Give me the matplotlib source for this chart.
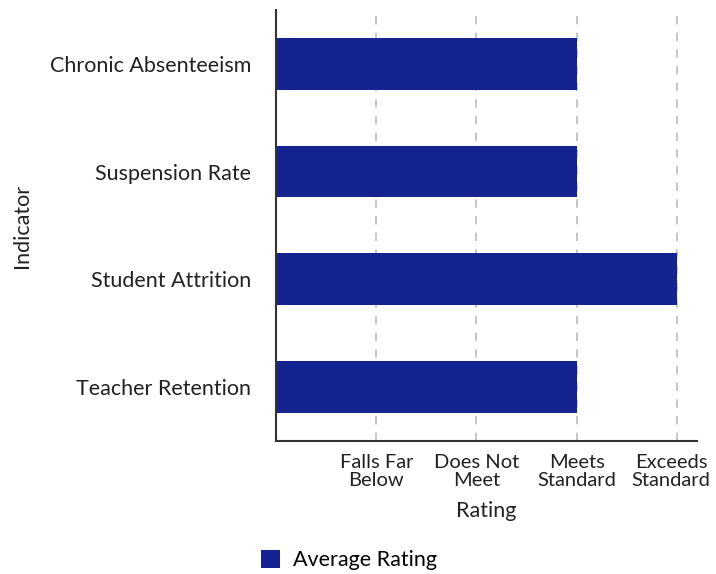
import matplotlib
matplotlib.use('Agg')
import matplotlib.pyplot as plt
import matplotlib.transforms as mtransforms

plt.rcParams['font.family'] = ['Lato', 'DejaVu Sans']

indicators = ['Chronic Absenteeism', 'Suspension Rate', 'Student Attrition', 'Teacher Retention']
ratings = [3, 3, 4, 3]
tick_vals = [1, 2, 3, 4]
tick_labels = ['Falls Far\nBelow', 'Does Not\nMeet', 'Meets\nStandard', 'Exceeds\nStandard']

fig = plt.figure(figsize=(7.16, 5.74), dpi=100)
ax = fig.add_axes([0.3855, 0.2317, 0.588, 0.751])

y = list(range(len(indicators)))[::-1]
ax.barh(y, ratings, height=0.48, color='#14238f', label='Average Rating', zorder=2)

ax.set_xlim(0, 4.2)
ax.set_ylim(-0.5, 3.5)
ax.set_yticks(y)
ax.set_yticklabels(indicators, fontsize=15.5, color='#222222')
ax.set_xticks(tick_vals)
ax.set_xticklabels(tick_labels, fontsize=14.5, color='#222222', linespacing=1.1)
ax.tick_params(length=0)
ax.tick_params(axis='y', pad=18)
ax.tick_params(axis='x', pad=9)
ax.xaxis.grid(True, linestyle=(0, (5, 5)), color='#bbbbbb', linewidth=1.2, zorder=0)

# last tick label is nudged left so it stays inside the figure
last = ax.get_xticklabels()[-1]
last.set_transform(last.get_transform() + mtransforms.ScaledTranslation(-6 / 100, 0, fig.dpi_scale_trans))

ax.spines['top'].set_visible(False)
ax.spines['right'].set_visible(False)
ax.spines['left'].set_color('#333333')
ax.spines['bottom'].set_color('#333333')
ax.spines['left'].set_linewidth(1.5)
ax.spines['bottom'].set_linewidth(1.5)

ax.set_xlabel('Rating', fontsize=15.5, color='#222222', labelpad=9)
ax.set_ylabel('Indicator', fontsize=15.5, color='#222222')
ax.yaxis.set_label_coords(-0.58, 0.5)

fig.legend(loc='center', bbox_to_anchor=(0.487, 0.0244), frameon=False,
           fontsize=15.5, handlelength=0.9, handleheight=0.9, handletextpad=0.6,
           borderpad=0, borderaxespad=0)

fig.savefig('out.png', dpi=100)
